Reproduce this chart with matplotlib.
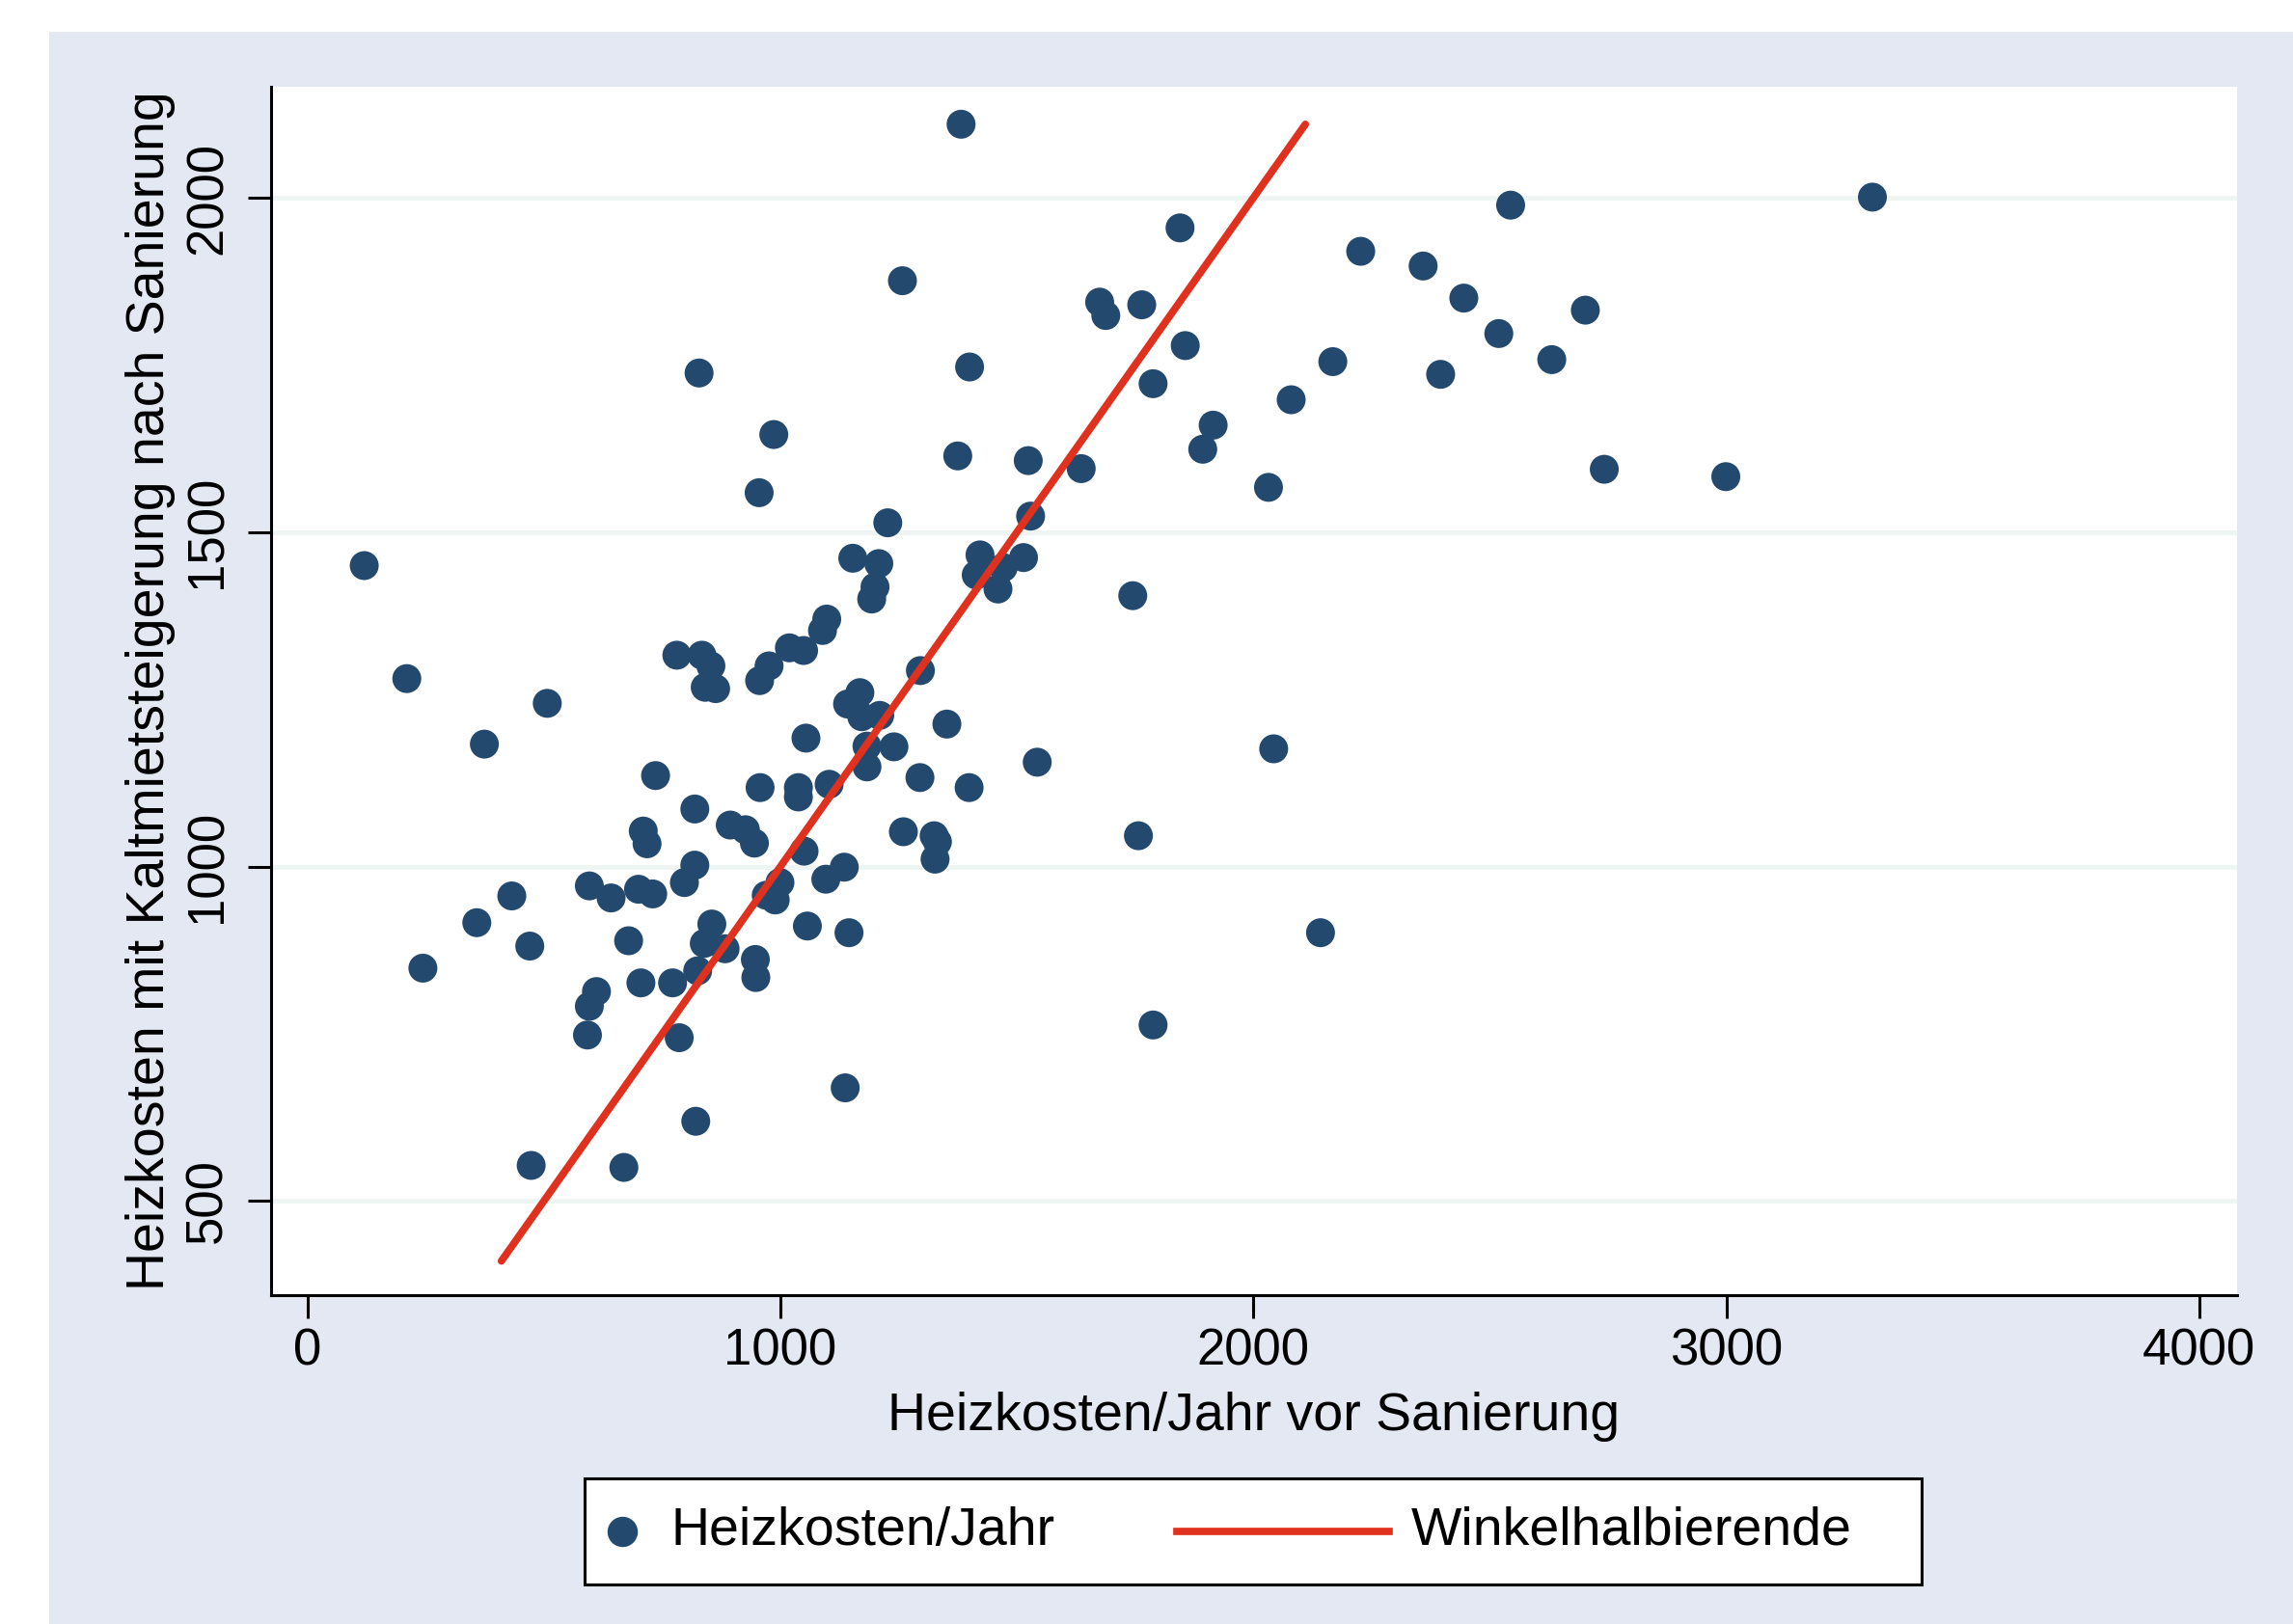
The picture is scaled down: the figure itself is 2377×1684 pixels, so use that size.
import matplotlib
matplotlib.use("Agg")
import matplotlib.pyplot as plt
from matplotlib.lines import Line2D
from matplotlib.patches import Rectangle
from matplotlib.offsetbox import AnchoredOffsetbox, HPacker, DrawingArea, TextArea

plt.rcParams['font.family'] = ['Liberation Sans', 'DejaVu Sans']

# Heizkosten/Jahr vor Sanierung (x) und nach Sanierung inkl. Kaltmietsteigerung (y)
heiz_vorher = [1382, 3309, 2544, 1845, 2227, 2359, 1258, 2445, 1675, 1688,
               1764, 2702, 2519, 1856, 2168, 2631, 828, 1400, 2396, 1788,
               2080, 1915, 986, 1893, 1375, 1524, 1636, 2742, 2999, 2032,
               955, 1227, 1529, 120, 1422, 1514, 1414, 1471, 1460, 1745,
               1153, 1208, 1200, 1193, 1098, 1089, 1019, 1049, 976, 956,
               781, 834, 853, 841, 863, 1168, 1142, 1210, 1172, 1054,
               1183, 1183, 1240, 736, 957, 1038, 1038, 1103, 210, 507,
               374, 1296, 1352, 1543, 1295, 1399, 2043, 819, 710, 718,
               894, 926, 945, 1050, 1260, 1325, 1332, 1327, 1757, 1788,
               819, 797, 642, 700, 730, 679, 705, 772, 786, 855,
               839, 883, 825, 947, 948, 999, 970, 989, 1096, 1135,
               1057, 1145, 611, 596, 592, 1137, 821, 669, 473, 432,
               596, 358, 470, 244, 2142]
heiz_nachher = [2110, 2001, 1989, 1955, 1920, 1898, 1876, 1850, 1844, 1824,
                1840, 1832, 1797, 1779, 1755, 1758, 1738, 1747, 1736, 1722,
                1698, 1660, 1646, 1624, 1614, 1607, 1595, 1594, 1583, 1567,
                1559, 1514, 1524, 1450, 1466, 1462, 1436, 1447, 1415, 1405,
                1461, 1453, 1418, 1400, 1370, 1353, 1327, 1323, 1300, 1278,
                1316, 1316, 1300, 1268, 1266, 1260, 1243, 1226, 1224, 1192,
                1180, 1149, 1179, 1136, 1118, 1118, 1104, 1123, 1281, 1244,
                1183, 1293, 1213, 1156, 1133, 1118, 1176, 1086, 1053, 1034,
                1062, 1055, 1035, 1023, 1052, 1046, 1037, 1011, 1046, 763,
                1002, 976, 953, 966, 959, 889, 826, 826, 744, 914,
                885, 877, 844, 861, 834, 976, 957, 950, 981, 999,
                911, 901, 813, 791, 748, 669, 619, 550, 553, 956,
                971, 916, 881, 848, 901]

# Winkelhalbierende (y = x)
winkel = [410, 2110]

x_ticks = [0, 1000, 2000, 3000, 4000]
y_ticks = [500, 1000, 1500, 2000]

navy = '#234a6e'
red = '#e0301e'
W, H = 2377, 1684
pt = 0.72  # points per pixel at dpi 100

fig = plt.figure(figsize=(W / 100, H / 100), dpi=100)
fig.patches.append(Rectangle((51 / W, 0), 1 - 51 / W, 1 - 33 / H,
                             transform=fig.transFigure, fc='#e4e8f3',
                             ec='none', zorder=-5))

ax = fig.add_axes([281 / W, 1 - 1343 / H, (2319 - 281) / W, (1343 - 90) / H])
ax.set_facecolor('white')

ax.scatter(heiz_vorher, heiz_nachher, s=466, color=navy, edgecolors='none', zorder=3)
ax.plot(winkel, winkel, color=red, lw=5.5, solid_capstyle='round', zorder=4)

ax.set_xlim(-77, 4080)
ax.set_ylim(359, 2166)
ax.set_xticks(x_ticks)
ax.set_yticks(y_ticks)

ax.spines[['top', 'right']].set_visible(False)
for s in ['left', 'bottom']:
    ax.spines[s].set_linewidth(2.2)
ax.tick_params(length=17, width=2.2, labelsize=38)
ax.tick_params(axis='x', pad=7)
ax.tick_params(axis='y', pad=12, labelrotation=90)
for lab in ax.get_yticklabels():
    lab.set_va('center')

ax.yaxis.grid(True, color='#eef5f3', lw=3.5)
ax.set_axisbelow(True)

ax.set_xlabel('Heizkosten/Jahr vor Sanierung', fontsize=40, labelpad=12)
ax.set_ylabel('Heizkosten mit Kaltmietsteigerung nach Sanierung', fontsize=40, labelpad=6)

# legend box below the plot
da1 = DrawingArea(89 * pt, 110 * pt)
da1.add_artist(Line2D([38.5 * pt], [55 * pt], marker='o', ms=30 * pt,
                      color=navy, ls='none'))
ta1 = TextArea('Heizkosten/Jahr', textprops=dict(size=40))
da2 = DrawingArea(370 * pt, 110 * pt)
da2.add_artist(Line2D([127 * pt, 347 * pt], [55 * pt, 55 * pt], color=red, lw=5.5))
ta2 = TextArea('Winkelhalbierende', textprops=dict(size=40))
da3 = DrawingArea(72 * pt, 110 * pt)

pack = HPacker(children=[da1, ta1, da2, ta2, da3], align='center', pad=0, sep=0)
legbox = AnchoredOffsetbox(loc='center', child=pack, pad=0, borderpad=0,
                           frameon=True, bbox_to_anchor=(1299 / W, 1 - 1588 / H),
                           bbox_transform=fig.transFigure)
legbox.patch.set_edgecolor('black')
legbox.patch.set_linewidth(2.2)
legbox.patch.set_facecolor('white')
fig.add_artist(legbox)

fig.savefig('out.png', dpi=100)
